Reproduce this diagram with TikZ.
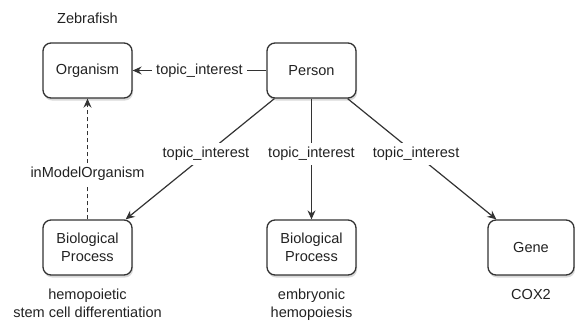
\documentclass[tikz,border=0pt]{standalone}
\usepackage{fontspec}
\setmainfont{Liberation Sans}
\usetikzlibrary{arrows.meta,shadows}
\definecolor{ink}{HTML}{222222}
\definecolor{edgec}{HTML}{333333}
\begin{document}
\begin{tikzpicture}[x=1bp,y=-1bp,
  every node/.style={font=\fontsize{14.6}{17.5}\selectfont, text=ink},
  box/.style={draw=edgec, line width=1.3bp, rounded corners=8bp, fill=white,
    minimum width=89bp, minimum height=55bp, align=center, inner sep=2bp,
    drop shadow={opacity=0.3, shadow xshift=1bp, shadow yshift=-2.5bp}},
  lbl/.style={align=center, inner sep=1bp},
  elbl/.style={fill=white, inner sep=4bp},
  edge/.style={draw=edgec, line width=1.2bp, -{Stealth[length=9bp,width=8bp,inset=3bp]}}]
\useasboundingbox (0,0) rectangle (575,323);
\node[box] (org) at (87.5,70.5) {Organism};
\node[box] (per) at (311.5,70.5) {Person};
\node[box] (bp1) at (87.5,247.5) {Biological\\Process};
\node[box] (bp2) at (311.5,247.5) {Biological\\Process};
\node[box, minimum width=86bp] (gene) at (531,247.5) {Gene};
\node[lbl] (zf) at (87.5,18) {Zebrafish};
\node[lbl, anchor=north] (hsc) at (87.5,288) {hemopoietic\\stem cell differentiation};
\node[lbl, anchor=north] (emb) at (311.5,288) {embryonic\\hemopoiesis};
\node[lbl, anchor=north] (cox) at (531,288) {COX2};
\draw[edge] (per.west) -- node[elbl]{topic\_interest} (org.east);
\draw[edge, dash pattern=on 4bp off 3bp] (bp1.north) -- node[elbl, pos=0.377]{inModelOrganism} (org.south);
\draw[edge] ([xshift=8bp]per.south west) -- node[elbl, pos=0.46]{topic\_interest} ([xshift=-7bp]bp1.north east);
\draw[edge] (per.south) -- node[elbl, pos=0.46]{topic\_interest} (bp2.north);
\draw[edge] ([xshift=-9bp]per.south east) -- node[elbl, pos=0.46]{topic\_interest} ([xshift=9bp]gene.north west);
\end{tikzpicture}
\end{document}
